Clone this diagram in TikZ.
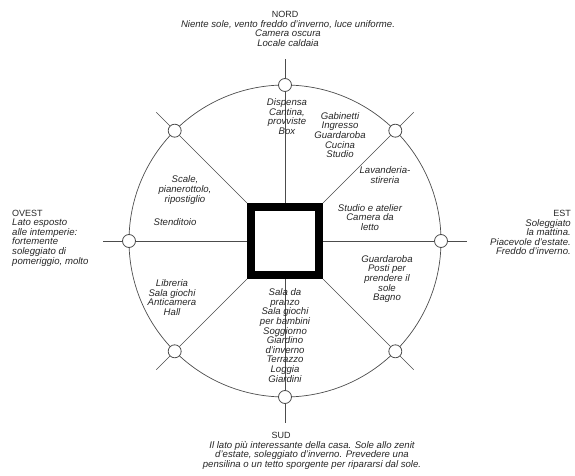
\documentclass[tikz,border=0pt]{standalone}
\usepackage{fontspec}
\setmainfont{Liberation Sans}
\usetikzlibrary{positioning}

\tikzset{
  side/.style={font=\fontsize{9}{10}\selectfont, text=black!85, inner sep=0pt},
  note/.style={font=\fontsize{9.6}{9.6}\selectfont\itshape, text=black!85, inner sep=0pt},
  room/.style={note, align=center},
  knot/.style={draw=black!70, fill=white, circle, minimum size=13pt, inner sep=0pt, line width=0.8pt},
  spoke/.style={draw=black!70, line width=0.6pt},
}

\begin{document}
\begin{tikzpicture}[x=1pt, y=1pt]
  \useasboundingbox (0,0) rectangle (575,476);

  % Circle and house
  \coordinate (ctr) at (285,235);
  \draw [black!70, line width=0.7pt] (ctr) circle[radius=156];
  \node (house) [draw, line width=8pt, minimum size=68pt, inner sep=0pt] at (ctr) {};
  \foreach \n/\a in {N/90, NE/45, E/0, SE/-45, S/-90, SW/-135, W/180, NW/135} {
    \node (k\n) [knot] at ([shift={(\a:156)}]ctr) {};
    \coordinate (o\n) at ([shift={(\a:182)}]ctr);
  }

  % Spokes
  \draw [spoke] (house.north) -- (kN) -- (oN);
  \draw [spoke] (house.north east) -- (kNE) -- (oNE);
  \draw [spoke] (house.east) -- (kE) -- (oE);
  \draw [spoke] (house.south east) -- (kSE) -- (oSE);
  \draw [spoke] (house.south) -- (kS) -- (oS);
  \draw [spoke] (house.south west) -- (kSW) -- (oSW);
  \draw [spoke] (house.west) -- (kW) -- (oW);
  \draw [spoke] (house.north west) -- (kNW) -- (oNW);

  % Sides
  \node (nord) [side] at (285,462) {NORD};
  \node (nordtxt) [room, below=2.5pt of nord, xshift=3pt] {Niente sole, vento freddo d'inverno, luce uniforme.\\Camera oscura\\Locale caldaia};
  \node (sud) [side] at (281,41) {SUD};
  \node (sudtxt) [room, below=2.5pt of sud, xshift=31pt] {Il lato più interessante della casa. Sole allo zenit\\d'estate, soleggiato d'inverno. Prevedere una\\pensilina o un tetto sporgente per ripararsi dal sole.};
  \node (ovest) [side, anchor=west] at (12,263) {OVEST};
  \node (ovesttxt) [note, align=left, below right=2.5pt and 0pt of ovest.south west] {Lato esposto\\alle intemperie:\\fortemente\\soleggiato di\\pomeriggio, molto};
  \node (est) [side, anchor=east] at (571,263) {EST};
  \node (esttxt) [note, align=right, below left=2.5pt and 0pt of est.south east] {Soleggiato\\la mattina.\\Piacevole d'estate.\\Freddo d'inverno.};

  % Rooms
  \node (dispensa) [room] at (287,359.5) {Dispensa\\Cantina,\\provviste\\Box};
  \node (ingresso) [room] at (340,341) {Gabinetti\\Ingresso\\Guardaroba\\Cucina\\Studio};
  \node (lavanderia) [room] at (385,301) {Lavanderia-\\stireria};
  \node (scale) [room] at (185,286) {Scale,\\pianerottolo,\\ripostiglio};
  \node (stenditoio) [room] at (175,254) {Stenditoio};
  \node (studio) [room] at (370,258.5) {Studio e atelier\\Camera da\\letto};
  \node (bagno) [room] at (387,197) {Guardaroba\\Posti per\\prendere il\\sole\\Bagno};
  \node (libreria) [room] at (172,178.5) {Libreria\\Sala giochi\\Anticamera\\Hall};
  \node (soggiorno) [room] at (285,140.5) {Sala da\\pranzo\\Sala giochi\\per bambini\\Soggiorno\\Giardino\\d'inverno\\Terrazzo\\Loggia\\Giardini};
\end{tikzpicture}
\end{document}
